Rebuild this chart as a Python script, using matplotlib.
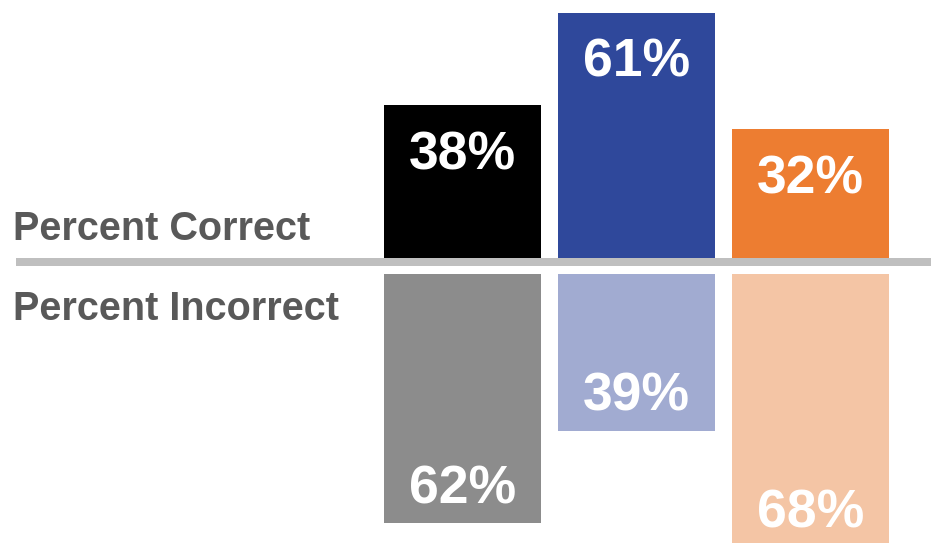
import matplotlib
matplotlib.use("Agg")
import matplotlib.pyplot as plt

plt.rcParams['font.family'] = ['Liberation Sans', 'DejaVu Sans']

groups = ["A", "B", "C"]
pct_correct = [38, 61, 32]
pct_incorrect = [62, 39, 68]
row_labels = ["Percent Correct", "Percent Incorrect"]

correct_colors = ["#000000", "#2F489B", "#ED7D31"]
incorrect_colors = ["#8C8C8C", "#A1ABD1", "#F4C5A5"]

W, H = 931, 543
px_per_pct = 4.02
base_px = 258      # pixel row of the zero line for the upper bars
gap = 4            # gap (in %) between the two halves
pitch = 174
x0_px = 462.5

fig = plt.figure(figsize=(W / 100, H / 100), dpi=100)
ax = fig.add_axes([0, 0, 1, 1])
ax.set_xlim(-x0_px / pitch, (W - x0_px) / pitch)
ax.set_ylim(-(H - base_px) / px_per_pct, base_px / px_per_pct)
ax.axis("off")

x = list(range(len(groups)))
width = 157 / pitch

ax.bar(x, pct_correct, width=width, bottom=0, color=correct_colors, zorder=2)
ax.bar(x, [-v for v in pct_incorrect], width=width, bottom=-gap,
       color=incorrect_colors, zorder=2)

# divider between the two halves
ax.axhline(-4 / px_per_pct, xmin=16 / W, xmax=1, color="#BFBFBF",
           linewidth=8 * 0.72, solid_capstyle="butt", zorder=3)

pt = 72 / 100
for xi, v in zip(x, pct_correct):
    ax.annotate(f"{v}%", (xi, v), xytext=(0, -64 * pt), textcoords="offset points",
                ha="center", va="baseline", color="white", fontsize=38.5,
                fontweight="bold", zorder=4, annotation_clip=False)
for xi, v in zip(x, pct_incorrect):
    ax.annotate(f"{v}%", (xi, -gap - v), xytext=(0, 20 * pt), textcoords="offset points",
                ha="center", va="baseline", color="white", fontsize=38.5,
                fontweight="bold", zorder=4, annotation_clip=False)

fig.text(13 / W, 1 - 240 / H, row_labels[0], ha="left", va="baseline",
         color="#595959", fontsize=28.5, fontweight="bold")
fig.text(13 / W, 1 - 319.5 / H, row_labels[1], ha="left", va="baseline",
         color="#595959", fontsize=28.5, fontweight="bold")

fig.savefig("out.png", dpi=100)
